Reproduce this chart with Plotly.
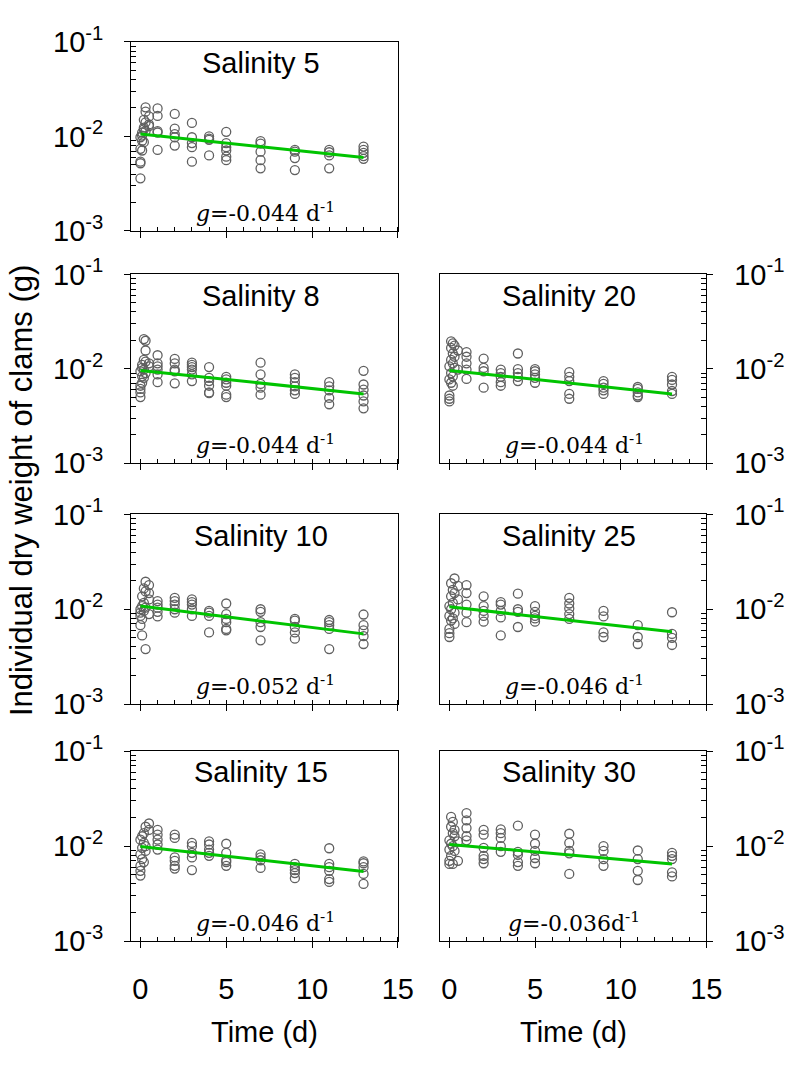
import plotly.graph_objects as go

# ---------------- data ----------------
times = [0, 0.1, 0.2, 0.3, 0.5, 1, 2, 3, 4, 5, 7, 9, 11, 13]

w_s5 = [[0.0054, 0.0052, 0.0036, 0.0074, 0.0098], [0.0071, 0.0102, 0.0110, 0.0090],
        [0.0150, 0.0119, 0.0087, 0.0124], [0.0203, 0.0183, 0.0141, 0.0114], [0.0163, 0.0134, 0.0129],
        [0.0198, 0.0165, 0.0114, 0.0110, 0.0072], [0.0173, 0.0121, 0.0106, 0.0098, 0.0080],
        [0.0139, 0.0098, 0.0085, 0.0077, 0.0054], [0.0100, 0.0095, 0.0092, 0.0063],
        [0.0112, 0.0085, 0.0077, 0.0071, 0.0061, 0.0056], [0.0089, 0.0084, 0.0069, 0.0056, 0.0046],
        [0.0072, 0.0069, 0.0059, 0.0044], [0.0072, 0.0068, 0.0063, 0.0046],
        [0.0078, 0.0072, 0.0067, 0.0062, 0.0058]]

w_s8 = [[0.0056, 0.0050, 0.0061, 0.0066, 0.0094], [0.0083, 0.0102, 0.0110, 0.0071],
        [0.0206, 0.0124, 0.0098, 0.0080], [0.0198, 0.0156, 0.0119, 0.0090], [0.0114, 0.0106],
        [0.0139, 0.0114, 0.0106, 0.0098, 0.0087, 0.0072], [0.0127, 0.0114, 0.0098, 0.0094, 0.0070],
        [0.0116, 0.0110, 0.0104, 0.0098, 0.0087, 0.0074], [0.0104, 0.0080, 0.0074, 0.0066, 0.0056, 0.0055],
        [0.0082, 0.0077, 0.0071, 0.0066, 0.0053, 0.0050], [0.0116, 0.0087, 0.0069, 0.0063, 0.0053],
        [0.0087, 0.0080, 0.0072, 0.0065, 0.0059, 0.0054], [0.0072, 0.0065, 0.0059, 0.0049, 0.0042],
        [0.0095, 0.0068, 0.0060, 0.0052, 0.0045, 0.0038]]

w_s20 = [[0.0052, 0.0048, 0.0045, 0.0077, 0.0106], [0.0195, 0.0166, 0.0124, 0.0090, 0.0071],
         [0.0186, 0.0145, 0.0114, 0.0083, 0.0066], [0.0176, 0.0134, 0.0102], [0.0156, 0.0098],
         [0.0150, 0.0134, 0.0114, 0.0098, 0.0078], [0.0128, 0.0102, 0.0094, 0.0063],
         [0.0098, 0.0090, 0.0082, 0.0072, 0.0066], [0.0145, 0.0099, 0.0090, 0.0082, 0.0074],
         [0.0099, 0.0094, 0.0087, 0.0080, 0.0071], [0.0092, 0.0082, 0.0074, 0.0054, 0.0048],
         [0.0074, 0.0069, 0.0063, 0.0059, 0.0054], [0.0064, 0.0061, 0.0056, 0.0052, 0.0050],
         [0.0082, 0.0076, 0.0068, 0.0058, 0.0054]]

w_s10 = [[0.0100, 0.0092, 0.0085, 0.0068], [0.0137, 0.0108, 0.0079, 0.0053],
         [0.0166, 0.0117, 0.0096], [0.0195, 0.0154, 0.0104, 0.0038], [0.0180, 0.0148, 0.0127, 0.0089],
         [0.0122, 0.0112, 0.0104, 0.0094, 0.0084], [0.0132, 0.0122, 0.0112, 0.0100, 0.0092],
         [0.0127, 0.0119, 0.0112, 0.0100, 0.0085], [0.0096, 0.0092, 0.0085, 0.0057],
         [0.0115, 0.0089, 0.0079, 0.0073, 0.0062, 0.0060], [0.0100, 0.0094, 0.0073, 0.0065, 0.0047],
         [0.0079, 0.0076, 0.0065, 0.0057, 0.0049], [0.0077, 0.0073, 0.0068, 0.0062, 0.0038],
         [0.0088, 0.0068, 0.0060, 0.0052, 0.0043]]

w_s25 = [[0.0062, 0.0056, 0.0051, 0.0085, 0.0108], [0.0188, 0.0137, 0.0100, 0.0076],
         [0.0160, 0.0117, 0.0080], [0.0211, 0.0148, 0.0092, 0.0070], [0.0176, 0.0127],
         [0.0180, 0.0148, 0.0112, 0.0092, 0.0073], [0.0137, 0.0108, 0.0096, 0.0085, 0.0074],
         [0.0119, 0.0112, 0.0096, 0.0082, 0.0053], [0.0146, 0.0100, 0.0094, 0.0065],
         [0.0108, 0.0094, 0.0085, 0.0080, 0.0074], [0.0132, 0.0115, 0.0102, 0.0089, 0.0079],
         [0.0096, 0.0084, 0.0057, 0.0051], [0.0068, 0.0051, 0.0043],
         [0.0093, 0.0055, 0.0050, 0.0042]]

w_s15 = [[0.0062, 0.0055, 0.0049, 0.0082, 0.0117], [0.0073, 0.0096, 0.0127],
         [0.0137, 0.0108, 0.0068], [0.0160, 0.0100, 0.0089], [0.0173, 0.0148],
         [0.0148, 0.0132, 0.0117, 0.0104, 0.0092], [0.0132, 0.0122, 0.0076, 0.0070, 0.0062, 0.0058],
         [0.0108, 0.0100, 0.0085, 0.0076, 0.0056], [0.0112, 0.0104, 0.0092, 0.0085, 0.0079],
         [0.0106, 0.0085, 0.0071, 0.0068, 0.0062], [0.0082, 0.0076, 0.0071, 0.0059],
         [0.0065, 0.0060, 0.0056, 0.0052, 0.0046], [0.0095, 0.0065, 0.0060, 0.0055, 0.0045, 0.0042],
         [0.0069, 0.0066, 0.0060, 0.0051, 0.0040]]

w_s30 = [[0.0065, 0.0070, 0.0092, 0.0115], [0.0203, 0.0160, 0.0106, 0.0079],
         [0.0180, 0.0137, 0.0100, 0.0065], [0.0148, 0.0127, 0.0089], [0.0112, 0.0070],
         [0.0223, 0.0187, 0.0155, 0.0127, 0.0115], [0.0148, 0.0132, 0.0096, 0.0079, 0.0073, 0.0066],
         [0.0150, 0.0137, 0.0122, 0.0100, 0.0087], [0.0164, 0.0087, 0.0081, 0.0068, 0.0062],
         [0.0132, 0.0106, 0.0089, 0.0075, 0.0066], [0.0135, 0.0108, 0.0089, 0.0084, 0.0051],
         [0.0100, 0.0089, 0.0073, 0.0062], [0.0090, 0.0073, 0.0055, 0.0044],
         [0.0085, 0.0079, 0.0073, 0.0053, 0.0048]]

panel_names = ["Salinity 5", "Salinity 8", "Salinity 20", "Salinity 10",
               "Salinity 25", "Salinity 15", "Salinity 30"]
panel_data = [w_s5, w_s8, w_s20, w_s10, w_s25, w_s15, w_s30]
g_labels = ["-0.044 d", "-0.044 d", "-0.044 d", "-0.052 d", "-0.046 d", "-0.046 d", "-0.036d"]
fit_t = [0, 13]
fit_start = [0.0106, 0.0096, 0.0096, 0.0108, 0.0106, 0.0099, 0.0104]
fit_end = [0.0060, 0.0054, 0.0054, 0.0055, 0.0058, 0.0054, 0.0065]

y_tickvals = [0.001, 0.01, 0.1]
y_ticktext = ["10<sup>-3</sup>", "10<sup>-2</sup>", "10<sup>-1</sup>"]
x_tickvals = [0, 5, 10, 15]

# ---------------- layout geometry (pixels) ----------------
W, H = 800, 1066
col_px = {"L": (134, 406), "R": (449.3, 720.7)}
row_px = [(22.7, 218.3), (263.3, 458.5), (511.7, 708.0), (756.7, 953.3)]
placement = [(0, "L"), (1, "L"), (1, "R"), (2, "L"), (2, "R"), (3, "L"), (3, "R")]

FONT = "Arial, Liberation Sans, sans-serif"
MARK = "#606060"
GREEN = "#00c400"
FS = 29

minor_y = []
for d in (0.001, 0.01):
    for k in range(2, 10):
        minor_y.append(d * k)

fig = go.Figure()
layout = dict(
    width=W, height=H, autosize=False,
    margin=dict(l=0, r=0, t=0, b=0),
    paper_bgcolor="white", plot_bgcolor="white",
    showlegend=False,
    font=dict(family=FONT, size=FS, color="black"),
)
annotations = []

for i, (name, data) in enumerate(zip(panel_names, panel_data)):
    r, c = placement[i]
    n = i + 1
    xs, ys = [], []
    for t, vals in zip(times, data):
        for v in vals:
            xs.append(t)
            ys.append(v)
    xa = "x" if n == 1 else f"x{n}"
    ya = "y" if n == 1 else f"y{n}"
    fig.add_trace(go.Scatter(
        x=xs, y=ys, mode="markers", xaxis=xa, yaxis=ya,
        marker=dict(symbol="circle-open", size=9, color=MARK, line=dict(width=1.3, color=MARK)),
        hoverinfo="skip"))
    fig.add_trace(go.Scatter(
        x=fit_t, y=[fit_start[i], fit_end[i]], mode="lines", xaxis=xa, yaxis=ya,
        line=dict(color=GREEN, width=3), hoverinfo="skip"))

    x0, x1 = col_px[c]
    yt, yb = row_px[r]
    xdom = [x0 / W, x1 / W]
    ydom = [1 - yb / H, 1 - yt / H]
    bottom = (r == 3)
    layout["xaxis" if n == 1 else f"xaxis{n}"] = dict(
        domain=xdom, anchor=ya, range=[-0.53, 15.001],
        tickmode="array", tickvals=x_tickvals,
        ticks="outside", ticklen=6, tickwidth=1.3, tickcolor="black",
        showticklabels=bottom, ticklabelstandoff=16,
        tickfont=dict(size=FS, family=FONT),
        minor=dict(tickmode="linear", tick0=0, dtick=1, ticks="inside", ticklen=4,
                   tickwidth=1.2, tickcolor="black", showgrid=False),
        showline=True, linecolor="black", linewidth=1.3, mirror=True,
        showgrid=False, zeroline=False)
    layout["yaxis" if n == 1 else f"yaxis{n}"] = dict(
        domain=ydom, anchor=xa, type="log", range=[-3, -1],
        side="left" if c == "L" else "right",
        tickmode="array", tickvals=y_tickvals, ticktext=y_ticktext,
        ticks="outside", ticklen=6, tickwidth=1.3, tickcolor="black",
        ticklabelstandoff=15,
        tickfont=dict(size=FS, family=FONT),
        minor=dict(tickmode="array", tickvals=minor_y, ticks="inside", ticklen=5,
                   tickwidth=1.2, tickcolor="black", showgrid=False),
        showline=True, linecolor="black", linewidth=1.3, mirror=True,
        showgrid=False, zeroline=False)

    xc = (x0 + x1) / 2
    annotations.append(dict(
        text=name, x=(xc - 4) / W, y=1 - (yt + 22) / H, xref="paper", yref="paper",
        xanchor="center", yanchor="middle", showarrow=False,
        font=dict(family=FONT, size=FS, color="black")))
    annotations.append(dict(
        text=f"<i>g</i>=" + g_labels[i] + "<sup>-1</sup>",
        x=(xc + 1) / W, y=1 - (yb - 20) / H, xref="paper", yref="paper",
        xanchor="center", yanchor="middle", showarrow=False,
        font=dict(family="DejaVu Serif, serif", size=22, color="black")))

for c in ("L", "R"):
    x0, x1 = col_px[c]
    annotations.append(dict(
        text="Time (d)", x=(x0 + x1) / 2 / W, y=1 - 1047 / H, xref="paper", yref="paper",
        xanchor="center", yanchor="middle", showarrow=False,
        font=dict(family=FONT, size=FS, color="black")))

annotations.append(dict(
    text="Individual dry weight of clams (g)", x=22 / W, y=1 - 487 / H,
    xref="paper", yref="paper", xanchor="center", yanchor="middle",
    textangle=-90, showarrow=False, font=dict(family=FONT, size=31, color="black")))

layout["annotations"] = annotations
fig.update_layout(**layout)
fig.write_html("out.html")
